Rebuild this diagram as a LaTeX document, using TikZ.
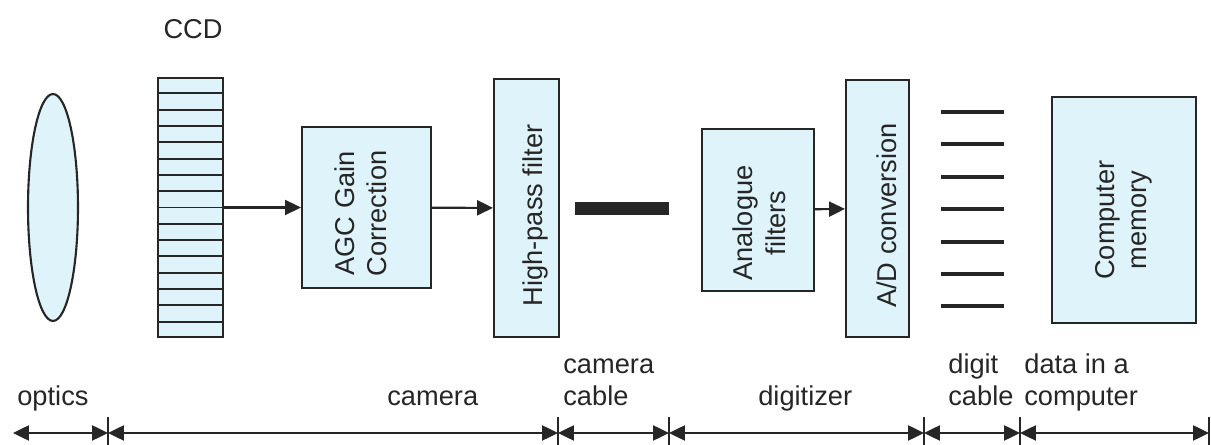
\documentclass[tikz,border=0pt]{standalone}
\usepackage{fontspec}
\setmainfont{Liberation Sans}
\usetikzlibrary{
	shapes.geometric,
	arrows.meta,
	calc}

\definecolor{boxfill}{RGB}{222,243,250}
\definecolor{ink}{RGB}{38,38,38}

\tikzset{
  stage/.style={draw=ink, fill=boxfill, line width=1.2pt, inner sep=0pt},
  caption/.style={rotate=90, align=center, text=ink, inner sep=0pt},
  flow/.style={-{Triangle[length=9pt,width=8.5pt]}, line width=1.2pt, draw=ink},
  span/.style={{Triangle[length=9pt,width=8.5pt]}-{Triangle[length=9pt,width=8.5pt]}, line width=1.2pt, draw=ink},
  tick/.style={draw=ink, line width=0.6pt},
  part/.style={inner sep=0pt, text depth=0pt, anchor=south west, align=left, text=ink}
}

\begin{document}
\begin{tikzpicture}[x=0.02cm, y=-0.02cm, font=\fontsize{15.5}{18.5}\selectfont]
    \useasboundingbox (0,0) rectangle (1211,445);

    % optics and sensor
    \node[stage, ellipse, minimum width=1cm, minimum height=4.54cm] (lens) at (53,207.5) {};
    \node[stage, minimum width=1.3cm, minimum height=5.18cm] (ccd) at (190.5,207.5) {};
    \foreach \i in {1,...,15}
      \draw[ink, line width=1.1pt] ($(ccd.north west)!\i/16!(ccd.south west)$) -- ($(ccd.north east)!\i/16!(ccd.south east)$);
    \node[text=ink] (ccdname) at (193,29) {CCD};

    % camera electronics
    \node[stage, minimum width=2.58cm, minimum height=3.22cm] (agc) at (366.5,207.5) {};
    \node[caption] (agctext) at (361,213.5) {AGC Gain\\Correction};
    \node[stage, minimum width=1.3cm, minimum height=5.16cm] (hp) at (526.5,208) {};
    \node[caption] (hptext) at (535,215.5) {High-pass filter};
    \node[fill=ink, inner sep=0pt, minimum width=1.88cm, minimum height=0.26cm] (cable) at (622,208.5) {};

    % digitizer
    \node[stage, minimum width=2.24cm, minimum height=3.24cm] (analog) at (758,210) {};
    \node[caption] (analogtext) at (759.5,223) {Analogue\\filters};
    \node[stage, minimum width=1.26cm, minimum height=5.14cm] (adc) at (877.5,208.5) {};
    \node[caption] (adctext) at (886.5,215.5) {A/D conversion};
    \foreach \i in {0,...,6}
      \draw[ink, line width=2.3pt] (941,112+32.4*\i) -- (1004,112+32.4*\i);
    \node[stage, minimum width=2.88cm, minimum height=4.52cm] (memory) at (1124,210) {};
    \node[caption] (memorytext) at (1124,220) {Computer\\memory};

    \draw[flow] (ccd) -- (agc);
    \draw[flow] (agc) -- (hp);
    \draw[flow] (analog) -- (adc);

    % stages along the bottom
    \foreach \c/\x in {d0/13, d1/108, d2/558, d3/669, d4/924, d5/1020, d6/1209}
      \coordinate (\c) at (\x,433);
    \foreach \c in {d1,d2,d3,d4,d5,d6}
      \draw[tick] ($(\c)+(0,-16)$) -- ($(\c)+(0,12)$);
    \foreach \a/\b in {d0/d1,d1/d2,d2/d3,d3/d4,d4/d5,d5/d6}
      \draw[span] (\a) -- (\b);

    \node[part] (optics) at (17,406) {optics};
    \node[part] (camera) at (387,406) {camera};
    \node[part] (camcable) at (563,406) {camera\\cable};
    \node[part] (digitizer) at (758,406) {digitizer};
    \node[part] (digcable) at (948,406) {digit\\cable};
    \node[part] (stored) at (1024,406) {data in a\\computer};
\end{tikzpicture}
\end{document}
